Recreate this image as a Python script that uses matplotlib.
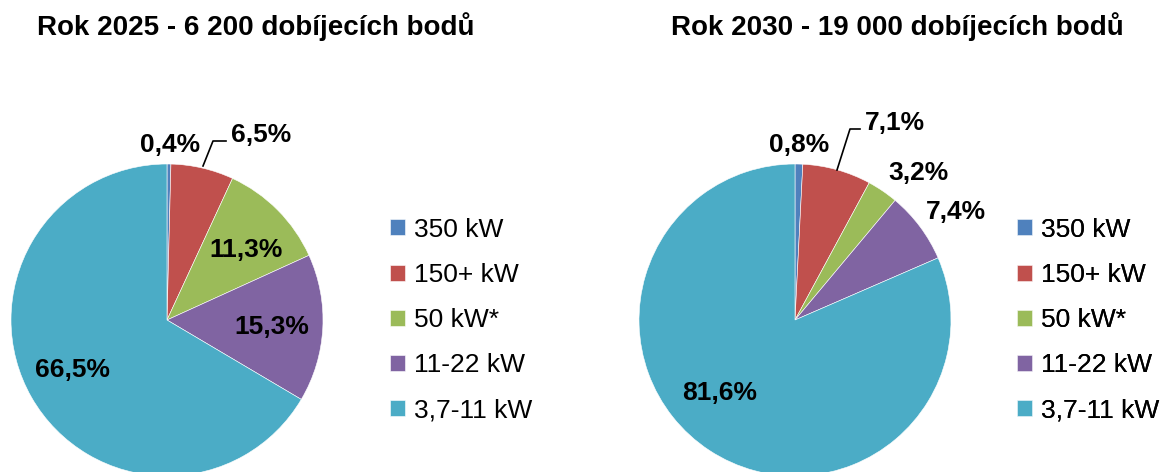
import matplotlib.pyplot as plt

plt.rcParams["font.family"] = ["Liberation Sans", "DejaVu Sans"]

# Data
categories = ["350 kW", "150+ kW", "50 kW*", "11-22 kW", "3,7-11 kW"]
shares_2025 = [0.4, 6.5, 11.3, 15.3, 66.5]
shares_2030 = [0.8, 7.1, 3.2, 7.4, 81.6]
title_2025 = "Rok 2025 - 6 200 dobíjecích bodů"
title_2030 = "Rok 2030 - 19 000 dobíjecích bodů"
colors = ["#4F81BD", "#C0504D", "#9BBB59", "#8064A2", "#4BACC6"]

W, H = 1161, 472
fig = plt.figure(figsize=(W / 100, H / 100), dpi=100)
ax = fig.add_axes([0, 0, 1, 1])

R = 156


def draw(values, center, title, title_x, label_offsets, leader, legend_x):
    cx, cy = center
    wedges, _ = ax.pie(
        values,
        colors=colors,
        startangle=90,
        counterclock=False,
        radius=R,
        center=(cx, cy),
        frame=True,
        wedgeprops=dict(edgecolor="white", linewidth=0.4),
    )
    for v, (dx, dy, ha) in zip(values, label_offsets):
        ax.text(cx + dx, cy + dy, f"{v:.1f}%".replace(".", ","), fontsize=19,
                fontweight="bold", ha=ha, va="center")
    # leader line for the small outside label
    pts = [(cx + x, cy + y) for x, y in leader]
    ax.plot([p[0] for p in pts], [p[1] for p in pts], color="black", lw=1.2)
    ax.text(title_x, H - 27, title, fontsize=20, fontweight="bold",
            ha="center", va="center")
    leg = ax.legend(wedges, categories, loc="center left",
                    bbox_to_anchor=(legend_x, H - 320), bbox_transform=ax.transData,
                    frameon=False, fontsize=19, handlelength=0.55, handleheight=0.55,
                    handletextpad=0.35, labelspacing=0.8, borderaxespad=0, borderpad=0)
    ax.add_artist(leg)


draw(shares_2025, (167, H - 320), title_2025, 256,
     [(3, 175, "center"), (64, 185, "left"), (79, 70, "center"),
      (105, -7, "center"), (-94, -50, "center")],
     [(36, 154), (46, 179), (59, 179)], 390)

draw(shares_2030, (795, H - 320), title_2030, 897,
     [(4, 175, "center"), (70, 197, "left"), (123, 147, "center"),
      (161, 108, "center"), (-75, -73, "center")],
     [(42, 150), (55, 191), (65, 191)], 1017)

ax.set_xlim(0, W)
ax.set_ylim(0, H)
ax.set_aspect("equal")
ax.axis("off")

fig.savefig("out.png", dpi=100)
